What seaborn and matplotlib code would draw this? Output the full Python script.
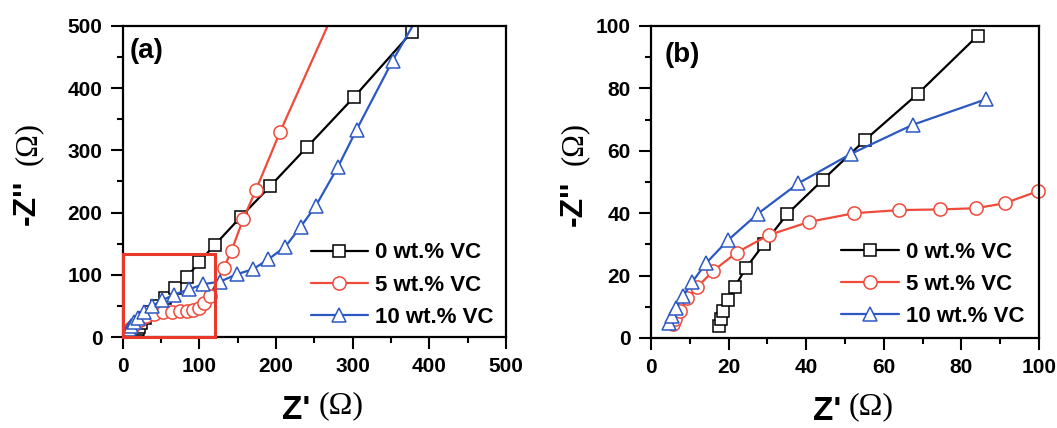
import numpy as np
import pandas as pd
import matplotlib
matplotlib.use("Agg")
import matplotlib.pyplot as plt
import matplotlib.ticker as mticker
from matplotlib.patches import Rectangle
import seaborn as sns

# ── data ──────────────────────────────────────────────────────────────────────
# 0 wt.% VC
vc0_x = [17.6, 18.1, 18.6, 19.9, 21.6, 24.4, 29.0, 35.1, 44.2, 55.2, 68.7, 84.2,
         100, 120, 154, 192, 241, 302, 377]
vc0_y = [3.8, 6.0, 8.8, 12.2, 16.4, 22.3, 30.0, 39.7, 50.6, 63.5, 78.2, 96.9,
         121, 148, 193, 242, 306, 386, 490]
# 5 wt.% VC
vc5_x = [5.7, 6.2, 7.5, 9.4, 11.9, 16.1, 22.1, 30.4, 40.7, 52.4, 64.0, 74.5,
         83.8, 91.2, 99.8, 106, 114, 132, 142, 157, 174, 205, 300]
vc5_y = [4.4, 6.0, 8.7, 12.7, 16.3, 21.6, 27.4, 33.0, 37.2, 40.0, 41.0, 41.2,
         41.6, 43.2, 47.1, 54, 66, 111, 139, 189, 237, 329, 590]
# 10 wt.% VC
vc10_x = [4.7, 5.3, 6.4, 8.3, 10.6, 14.2, 19.8, 27.5, 38.0, 51.5, 67.4, 86.3,
          105, 127, 149, 170, 190, 212, 232, 252, 281, 305, 352, 400]
vc10_y = [4.9, 7.1, 9.7, 13.5, 17.9, 24.0, 31.3, 39.8, 49.6, 59.0, 68.3, 76.5,
          85, 89, 101, 109, 125, 145, 177, 211, 274, 333, 444, 547]

labels = ["0 wt.% VC", "5 wt.% VC", "10 wt.% VC"]
colors = ["#000000", "#f04a3a", "#2c58c4"]
markers = ["s", "o", "^"]

# zoomed region marked in panel (a)
box_x = [0, 120]
box_y = [0, 133]

series = [(vc0_x, vc0_y), (vc5_x, vc5_y), (vc10_x, vc10_y)]

# ── style ─────────────────────────────────────────────────────────────────────
sns.set_theme(style="ticks")
plt.rcParams.update({
    "font.family": ["Liberation Sans", "DejaVu Sans"],
    "font.weight": "bold",
    "text.color": "black",
    "axes.labelcolor": "black",
    "axes.linewidth": 1.6,
    "axes.edgecolor": "black",
    "xtick.color": "black",
    "ytick.color": "black",
    "xtick.labelcolor": "black",
    "ytick.labelcolor": "black",
})

fig = plt.figure(figsize=(10.57, 4.28), dpi=100)
ax_a = fig.add_axes([0.1161, 0.2126, 0.3626, 0.7267])
ax_b = fig.add_axes([0.6159, 0.2103, 0.3671, 0.7290])


def draw_panel(ax, xmax, ymax, major, minor, tag, tag_pos, leg_anchor, ylab_x,
               zoomed=False):
    for (xs, ys), lab, c, m in zip(series, labels, colors, markers):
        df = pd.DataFrame({"x": xs, "y": ys})
        if zoomed:
            # only the points inside the window, markers may sit on the frame
            df = df[(df.x <= xmax) & (df.y <= ymax)]
        sns.lineplot(data=df, x="x", y="y", ax=ax, sort=False, estimator=None,
                     color=c, marker=m, markersize=9.5 if m != "s" else 8.5,
                     markerfacecolor="white", markeredgecolor=c,
                     markeredgewidth=1.1, linewidth=1.6, label=lab,
                     clip_on=not zoomed)
    ax.set_xlim(0, xmax)
    ax.set_ylim(0, ymax)
    ax.xaxis.set_major_locator(mticker.MultipleLocator(major))
    ax.xaxis.set_minor_locator(mticker.MultipleLocator(minor))
    ax.yaxis.set_major_locator(mticker.MultipleLocator(major))
    ax.yaxis.set_minor_locator(mticker.MultipleLocator(minor))
    ax.tick_params(which="major", direction="out", length=8.5, width=1.5,
                   labelsize=15, pad=6, labelcolor="black")
    ax.tick_params(which="minor", direction="out", length=4.5, width=1.5)
    for lbl in ax.get_xticklabels() + ax.get_yticklabels():
        lbl.set_fontweight("bold")
    ax.set_xlabel("")
    ax.set_ylabel("")
    for sp in ax.spines.values():
        sp.set_visible(True)
        sp.set_linewidth(1.6)

    ax.text(tag_pos[0], tag_pos[1], tag, transform=ax.transAxes,
            fontsize=20, fontweight="bold", ha="left", va="top", color="black")

    leg = ax.legend(loc="lower left", bbox_to_anchor=leg_anchor, frameon=False,
                    borderpad=0, borderaxespad=0, handlelength=2.6,
                    handletextpad=0.3, labelspacing=0.5,
                    prop={"size": 16, "weight": "bold"})
    for t in leg.get_texts():
        t.set_color("black")

    # axis titles: bold "Z'" + serif "(Ω)"
    ax.text(0.49, -0.185, "Z'", transform=ax.transAxes, fontsize=24,
            fontweight="bold", ha="right", va="top", color="black")
    ax.text(0.51, -0.175, "(Ω)", transform=ax.transAxes, fontsize=23,
            family="Liberation Serif", fontweight="normal", ha="left", va="top",
            color="black")
    ax.text(ylab_x, 0.505, "-Z''", transform=ax.transAxes, fontsize=23,
            fontweight="bold", rotation=90, ha="center", va="top", color="black")
    ax.text(ylab_x + 0.003, 0.553, "(Ω)", transform=ax.transAxes, fontsize=22,
            family="Liberation Serif", fontweight="normal", rotation=90,
            ha="center", va="bottom", color="black")


draw_panel(ax_a, 500, 500, 100, 50, "(a)", (0.019, 0.96),
           (0.49, 0.03), -0.25)
ax_a.add_patch(Rectangle((box_x[0], box_y[0]), box_x[1] - box_x[0],
                         box_y[1] - box_y[0], fill=False, ec="#e8392b",
                         lw=2.2, zorder=5, clip_on=False))

draw_panel(ax_b, 100, 100, 20, 10, "(b)", (0.034, 0.95),
           (0.49, 0.035), -0.20, zoomed=True)

fig.savefig("out.png", dpi=100, facecolor="white")
